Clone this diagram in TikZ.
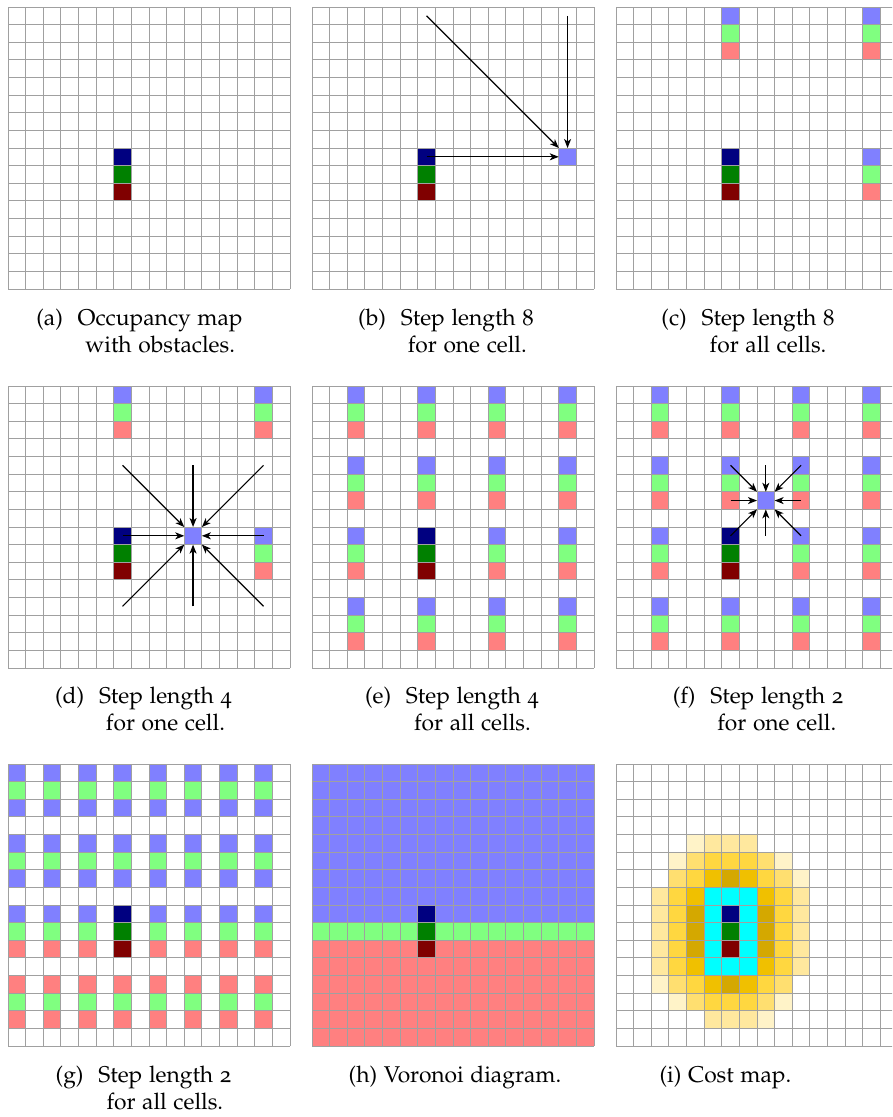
\documentclass[tikz,border=0pt]{standalone}
\usepackage[T1]{fontenc}
\usepackage[osf]{mathpazo}
\usetikzlibrary{arrows.meta}
\definecolor{lb}{RGB}{128,128,255}
\definecolor{lg}{RGB}{128,255,128}
\definecolor{lr}{RGB}{255,128,128}
\definecolor{db}{RGB}{0,0,128}
\definecolor{dg}{RGB}{0,128,0}
\definecolor{dr}{RGB}{128,0,0}
\definecolor{cy}{RGB}{0,255,255}
\definecolor{ca}{RGB}{255,243,200}
\definecolor{cb}{RGB}{255,232,158}
\definecolor{cc}{RGB}{255,223,112}
\definecolor{cd}{RGB}{255,215,64}
\definecolor{ce}{RGB}{240,192,0}
\definecolor{cf}{RGB}{212,168,0}
\definecolor{gridgray}{RGB}{160,160,160}
\newlength\caphang
\newcommand\capfont{\fontsize{22.8}{27}\selectfont}
\newcommand\captwo[3]{\settowidth\caphang{(#1)\hspace{0.65em}}\parbox[t]{260pt}{\centering\hangindent=\caphang\hangafter=1 (#1)\hspace{0.65em}#2\unskip\break #3}}
\newcommand\cellfill[3]{\fill[#3] (#1,#2) rectangle ++(1,1);}
\newcommand\gridlines{\foreach \i in {0,...,16}{\draw[gridl] (\i,0) -- (\i,16); \draw[gridl] (0,\i) -- (16,\i);}}
\newcommand\obstacle{\cellfill{6}{8}{db}\cellfill{6}{9}{dg}\cellfill{6}{10}{dr}}
\newcommand\trio[2]{\cellfill{#1}{#2}{lb}\cellfill{#1}{\the\numexpr#2+1\relax}{lg}\cellfill{#1}{\the\numexpr#2+2\relax}{lr}}
\tikzset{
  gridl/.style={draw=gridgray, line width=1pt},
  arr/.style={-{Stealth[length=9pt,width=7pt,inset=2.5pt]}, line width=1.2pt, draw=black},
  tgt/.style={fill=lb, minimum size=17.625pt, inner sep=0pt, outer sep=0pt},
  capnode/.style={font=\capfont, inner sep=0pt, anchor=base},
  cellunits/.style={x=17.625pt, y=-17.625pt}
}
\begin{document}
\begin{tikzpicture}[x=1pt, y=-1pt]
\clip (0,0) rectangle (892,1117);
\fill[white] (0,0) rectangle (892,1117);
% (a)
\begin{scope}[shift={(8,7)}, cellunits]
  \obstacle
  \gridlines
\end{scope}
% (b)
\begin{scope}[shift={(312,7)}, cellunits]
  \obstacle
  \node[tgt] (bt) at (14.5,8.5) {};
  \coordinate (bs1) at (6.5,0.5);
  \coordinate (bs2) at (14.5,0.5);
  \coordinate (bs3) at (6.5,8.5);
  \gridlines
  \draw[arr] (bs1) -- (bt);
  \draw[arr] (bs2) -- (bt);
  \draw[arr] (bs3) -- (bt);
\end{scope}
% (c)
\begin{scope}[shift={(616,7)}, cellunits]
  \obstacle
  \trio{6}{0}\trio{14}{0}\trio{14}{8}
  \gridlines
\end{scope}
% (d)
\begin{scope}[shift={(8,386)}, cellunits]
  \obstacle
  \trio{6}{0}\trio{14}{0}\trio{14}{8}
  \node[tgt] (dt) at (10.5,8.5) {};
  \gridlines
  \foreach \sx/\sy [count=\k] in {6/4,10/4,14/4,6/8,14/8,6/12,10/12,14/12}{
    \coordinate (ds\k) at (\sx+0.5,\sy+0.5);
    \draw[arr] (ds\k) -- (dt);
  }
\end{scope}
% (e)
\begin{scope}[shift={(312,386)}, cellunits]
  \foreach \cx in {2,6,10,14}{\foreach \ry in {0,4,8,12}{\trio{\cx}{\ry}}}
  \obstacle
  \gridlines
\end{scope}
% (f)
\begin{scope}[shift={(616,386)}, cellunits]
  \foreach \cx in {2,6,10,14}{\foreach \ry in {0,4,8,12}{\trio{\cx}{\ry}}}
  \obstacle
  \node[tgt] (ft) at (8.5,6.5) {};
  \gridlines
  \foreach \sx/\sy [count=\k] in {6/4,8/4,10/4,6/6,10/6,6/8,8/8,10/8}{
    \coordinate (fs\k) at (\sx+0.5,\sy+0.5);
    \draw[arr] (fs\k) -- (ft);
  }
\end{scope}
% (g)
\begin{scope}[shift={(8,764)}, cellunits]
  \foreach \cx in {0,2,...,14}{
    \foreach \ry/\cl in {0/lb,1/lg,2/lb,4/lb,5/lg,6/lb,8/lb,9/lg,10/lr,12/lr,13/lg,14/lr}{\cellfill{\cx}{\ry}{\cl}}
  }
  \obstacle
  \gridlines
\end{scope}
% (h)
\begin{scope}[shift={(312,764)}, cellunits]
  \fill[lb] (0,0) rectangle (16,9);
  \fill[lg] (0,9) rectangle (16,10);
  \fill[lr] (0,10) rectangle (16,16);
  \obstacle
  \gridlines
\end{scope}
% (i)
\begin{scope}[shift={(616,764)}, cellunits]
  \foreach \cx/\ry/\cl in {4/4/ca,5/4/cb,6/4/cb,7/4/cb,
    3/5/ca,4/5/cc,5/5/cd,6/5/cd,7/5/cd,8/5/cc,9/5/ca,
    3/6/cc,4/6/cd,5/6/ce,6/6/cf,7/6/ce,8/6/cd,9/6/cc,10/6/ca,
    2/7/cb,3/7/cd,4/7/ce,5/7/cy,6/7/cy,7/7/cy,8/7/ce,9/7/cd,10/7/cb,
    2/8/cb,3/8/cd,4/8/cf,5/8/cy,7/8/cy,8/8/cf,9/8/cd,10/8/cb,
    2/9/cb,3/9/cd,4/9/cf,5/9/cy,7/9/cy,8/9/cf,9/9/cd,10/9/cb,
    2/10/cb,3/10/cd,4/10/cf,5/10/cy,7/10/cy,8/10/cf,9/10/cd,10/10/cb,
    2/11/cb,3/11/cd,4/11/ce,5/11/cy,6/11/cy,7/11/cy,8/11/ce,9/11/cd,10/11/cb,
    2/12/ca,3/12/cc,4/12/cd,5/12/ce,6/12/cf,7/12/ce,8/12/cd,9/12/cc,
    3/13/ca,4/13/cc,5/13/cd,6/13/cd,7/13/cd,8/13/cc,9/13/ca,
    5/14/cb,6/14/cb,7/14/cb,8/14/ca}{\cellfill{\cx}{\ry}{\cl}}
  \obstacle
  \gridlines
\end{scope}
% captions
\node[capnode] (capa) at (139.5,325) {\captwo{a}{Occupancy map}{with obstacles.}};
\node[capnode] (capb) at (446,325) {\captwo{b}{Step length 8}{for one cell.}};
\node[capnode] (capc) at (748,325) {\captwo{c}{Step length 8}{for all cells.}};
\node[capnode] (capd) at (143.5,703.5) {\captwo{d}{Step length 4}{for one cell.}};
\node[capnode] (cape) at (452,703.5) {\captwo{e}{Step length 4}{for all cells.}};
\node[capnode] (capf) at (758,703.5) {\captwo{f}{Step length 2}{for one cell.}};
\node[capnode] (capg) at (143.5,1082) {\captwo{g}{Step length 2}{for all cells.}};
\node[capnode] (caph) at (455,1082) {(h) Voronoi diagram.};
\node[capnode] (capi) at (725.5,1082) {(i) Cost map.};
\end{tikzpicture}
\end{document}
